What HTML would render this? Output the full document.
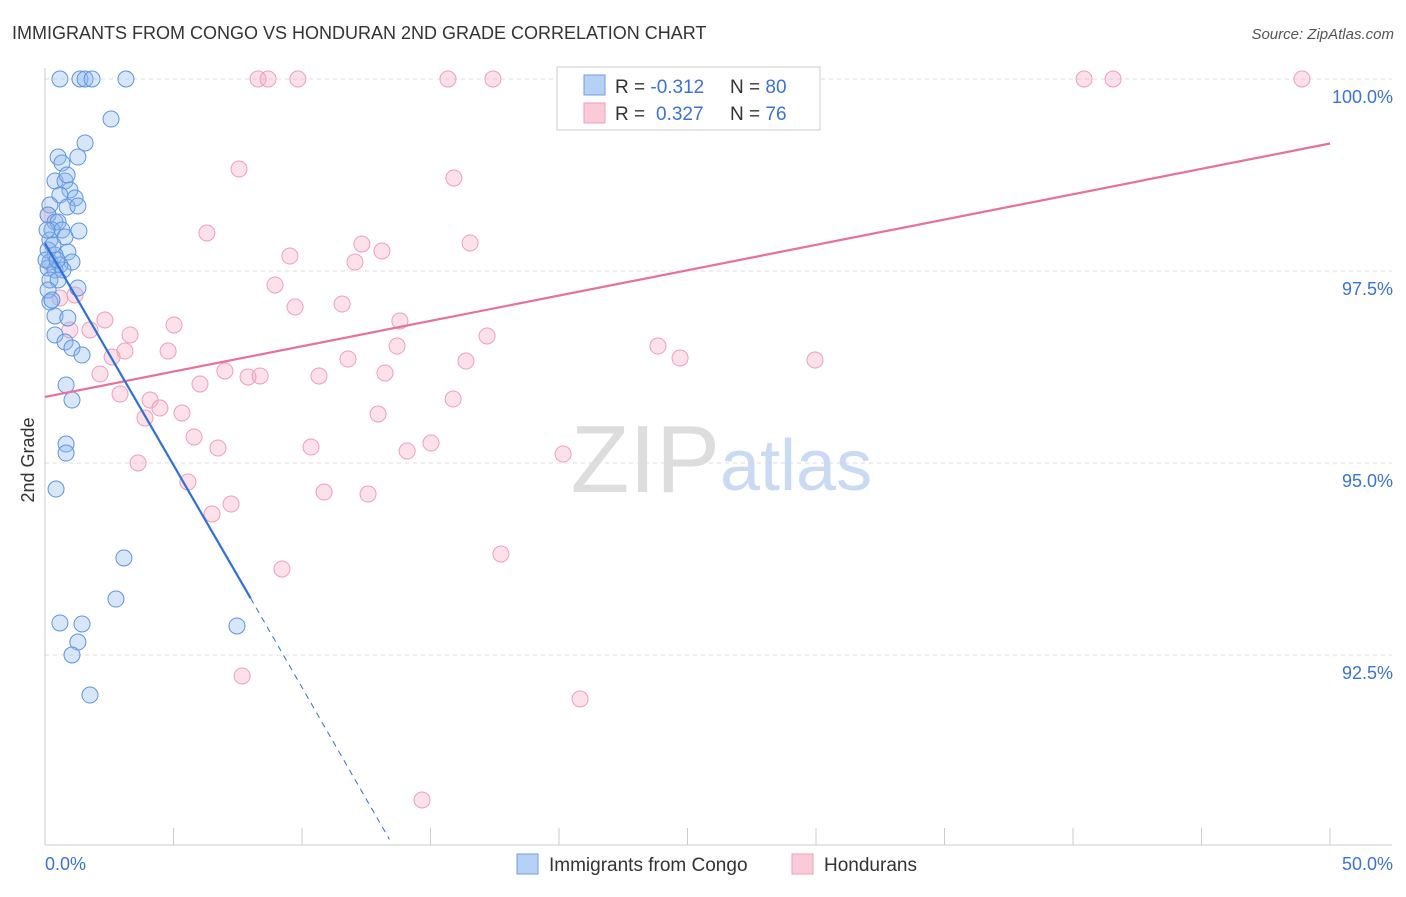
<!DOCTYPE html>
<html><head><meta charset="utf-8">
<style>
body{margin:0;background:#fff;font-family:"Liberation Sans",sans-serif;}
svg text{font-family:"Liberation Sans",sans-serif;}
</style></head>
<body>
<svg id="chart" width="1406" height="892" xmlns="http://www.w3.org/2000/svg">
<text x="12" y="39" font-size="18" fill="#333">IMMIGRANTS FROM CONGO VS HONDURAN 2ND GRADE CORRELATION CHART</text>
<text x="1394" y="39" font-size="15" fill="#555" text-anchor="end" font-style="italic">Source: ZipAtlas.com</text>
<text x="34" y="460" font-size="18" fill="#333" text-anchor="middle" transform="rotate(-90 34 460)">2nd Grade</text>
<g id="grid"></g>
<text x="720" y="492" font-size="96" fill="#ddd" text-anchor="end" font-family="Liberation Serif">ZIP</text>
<text x="720" y="490" font-size="72" fill="#c9daf2">atlas</text>
<g id="pts"></g>
<g id="lines"></g>
<g>
<rect x="557" y="67" width="263" height="63" fill="#fff" stroke="#ccc"/>
<rect x="584" y="75" width="21" height="20" fill="#b6d1f5" stroke="#6f9fe0"/>
<rect x="584" y="103" width="21" height="20" fill="#fbcad9" stroke="#ef9fb8"/>
<text x="615" y="93" font-size="19" fill="#333">R = <tspan fill="#3a73d6">-0.312</tspan><tspan x="730">N = </tspan><tspan fill="#3a73d6">80</tspan></text>
<text x="615" y="120" font-size="19" fill="#333">R = <tspan fill="#3a73d6" x="656">0.327</tspan><tspan x="730">N = </tspan><tspan fill="#3a73d6">76</tspan></text>
</g>
<g>
<rect x="517" y="854" width="21" height="20" fill="#b6d1f5" stroke="#6f9fe0"/>
<text x="549" y="871" font-size="19" fill="#333">Immigrants from Congo</text>
<rect x="792" y="854" width="21" height="20" fill="#fbcad9" stroke="#ef9fb8"/>
<text x="824" y="871" font-size="19" fill="#333">Hondurans</text>
</g>
</svg>
<script>
const yTicks=[100,97.5,95,92.5];
const yTickLabels=["100.0%","97.5%","95.0%","92.5%"];
const xTickLabels=["0.0%","50.0%"];
const congoPx=[[60,79],[80,79],[85,79],[92,79],[126,79],[111,119],[85,143],[78,157],[58,157],[62,163],[55,181],[65,181],[67,175],[70,190],[60,195],[75,198],[50,205],[67,207],[78,206],[48,215],[55,222],[58,222],[52,230],[62,230],[79,231],[50,240],[65,237],[48,250],[68,252],[55,255],[72,262],[50,262],[60,265],[48,268],[55,270],[63,270],[50,280],[58,280],[78,288],[48,290],[50,302],[55,316],[68,318],[55,335],[65,342],[72,348],[82,355],[66,385],[72,400],[66,444],[66,453],[56,489],[124,558],[116,599],[60,623],[82,624],[78,642],[72,655],[237,626],[90,695],[52,300],[47,230],[46,260],[53,245],[57,260]];
const hondPx=[[258,79],[268,79],[298,79],[448,79],[493,79],[688,79],[770,79],[1084,79],[1113,79],[1302,79],[239,169],[454,178],[207,233],[362,244],[470,243],[290,256],[355,262],[382,251],[275,285],[342,304],[295,307],[48,215],[60,298],[75,295],[105,320],[90,330],[70,330],[130,335],[174,325],[400,321],[487,336],[658,346],[680,358],[815,360],[112,357],[125,351],[168,351],[348,359],[397,346],[466,361],[100,374],[225,371],[248,377],[260,376],[319,376],[385,373],[200,384],[120,394],[150,400],[160,408],[182,413],[145,418],[378,414],[453,399],[194,437],[218,448],[311,447],[407,451],[431,443],[563,454],[138,463],[188,482],[324,492],[368,494],[231,504],[212,514],[501,554],[282,569],[242,676],[580,699],[422,800]];
// convert pixel readings to data values (x %, y %)
const congoX=congoPx.map(p=>+((p[0]-45)/1285*50).toFixed(2));
const congoY=congoPx.map(p=>+(100-(p[1]-79)/76.8).toFixed(3));
const hondX=hondPx.map(p=>+((p[0]-45)/1285*50).toFixed(2));
const hondY=hondPx.map(p=>+(100-(p[1]-79)/76.8).toFixed(3));
const congoTrend=[[0,97.86],[8,93.24],[13.4,90.1]];
const hondTrend=[[0,95.86],[50,99.16]];
const X=v=>45+v/50*1285, Y=v=>79+(100-v)*76.8;
const NS="http://www.w3.org/2000/svg";
function mk(t,a,p){const e=document.createElementNS(NS,t);for(const k in a)e.setAttribute(k,a[k]);p.appendChild(e);return e;}
const g=document.getElementById('grid');
yTicks.forEach((t,i)=>{
 const l=mk('line',{x1:45,x2:1392,y1:Y(t),y2:Y(t),stroke:'#ddd','stroke-dasharray':'4,4'},g);
 
 
 const tx=mk('text',{x:1393,y:Y(t)+24,'font-size':18,fill:'#3a73d6','text-anchor':'end'},g);
 tx.textContent=yTickLabels[i];
 
 
});
mk('line',{x1:45,x2:45,y1:68,y2:845,stroke:'#ccc'},g);
mk('line',{x1:45,x2:1392,y1:845,y2:845,stroke:'#ccc'},g);
for(let i=0;i<=10;i++){const x=X(i*5);mk('line',{x1:x,x2:x,y1:828,y2:845,stroke:'#ccc'},g);}
xTickLabels.forEach((s,i)=>{const t=mk('text',{x:i?1393:45,y:870,'font-size':18,fill:'#3a73d6','text-anchor':i?'end':'start'},g);t.textContent=s;
 
 });
const pg=document.getElementById('pts');
hondX.forEach((x,i)=>{const c=mk('circle',{cx:X(x),cy:Y(hondY[i]),r:8,fill:'#f7aac2','fill-opacity':0.35,stroke:'#ef9fb8','stroke-width':1},pg);
 
 });
congoX.forEach((x,i)=>{const c=mk('circle',{cx:X(x),cy:Y(congoY[i]),r:8,fill:'#8fb8ef','fill-opacity':0.35,stroke:'#5f95de','stroke-width':1},pg);
 
 });
const lg=document.getElementById('lines');
let l1=mk('line',{x1:X(hondTrend[0][0]),y1:Y(hondTrend[0][1]),x2:X(hondTrend[1][0]),y2:Y(hondTrend[1][1]),stroke:'#e8709a','stroke-width':2.2},lg);


let l2=mk('line',{x1:X(congoTrend[0][0]),y1:Y(congoTrend[0][1]),x2:X(congoTrend[1][0]),y2:Y(congoTrend[1][1]),stroke:'#2f6fd8','stroke-width':2.2},lg);


let l3=mk('line',{x1:X(congoTrend[1][0]),y1:Y(congoTrend[1][1]),x2:X(congoTrend[2][0]),y2:Y(congoTrend[2][1]),stroke:'#2f6fd8','stroke-width':1,'stroke-dasharray':'6,5'},lg);


</script>
</body></html>
